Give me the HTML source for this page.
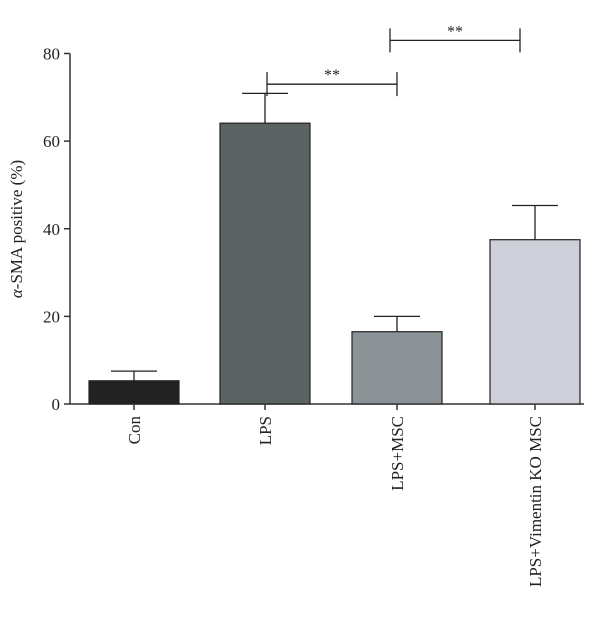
<!DOCTYPE html>
<html><head><meta charset="utf-8"><style>
body{margin:0;background:#fff}
svg text{font-family:"Liberation Serif",serif;fill:#222}
</style></head><body>
<svg width="600" height="636" viewBox="0 0 600 636">
<g id="plot"></g>
</svg>
<script>
const categories=["Con","LPS","LPS+MSC","LPS+Vimentin KO MSC"];
const values=[5.3,64.1,16.5,37.5];
const errors=[2.2,6.8,3.5,7.8];
const colors=["#222222","#5c6363","#8b9397","#cdd0d8"];
const yTicks=[0,20,40,60,80];
const sigPairs=[[1,2,73],[2,3,83]];
const sigLabels=["**","**"];
const NS="http://www.w3.org/2000/svg";
const g=document.getElementById('plot');
const x0=70,yBase=404,yTop=53.5,yMax=80;
const y=v=>yBase-(v/yMax)*(yBase-yTop);
const centers=[134,265,397,535];
const barW=90;
const xc=i=>centers[i];
function el(t,a,p){const e=document.createElementNS(NS,t);for(const k in a)e.setAttribute(k,a[k]);(p||g).appendChild(e);return e;}
// axes
let ax=el('line',{x1:x0,y1:yTop,x2:x0,y2:yBase,stroke:'#333','stroke-width':1.5});


let bx=el('line',{x1:x0,y1:yBase,x2:584,y2:yBase,stroke:'#333','stroke-width':1.5});


yTicks.forEach(t=>{
 const tk=el('line',{x1:x0-6,y1:y(t),x2:x0,y2:y(t),stroke:'#333','stroke-width':1.5});
 
 
 const tx=el('text',{x:x0-10,y:y(t)+6,'text-anchor':'end','font-size':17});
 tx.textContent=t;
 
 
});
const yt=el('text',{transform:'translate(22,229) rotate(-90)','text-anchor':'middle','font-size':17});
yt.innerHTML='<tspan font-style="italic">α</tspan>-SMA positive (%)';


categories.forEach((c,i)=>{
 const cx=xc(i);
 const r=el('rect',{x:cx-barW/2,y:y(values[i]),width:barW,height:yBase-y(values[i]),fill:colors[i],stroke:'#222','stroke-width':1.2});
 
 
 const e=el('path',{d:`M${cx},${y(values[i])}V${y(values[i]+errors[i])}M${cx-23},${y(values[i]+errors[i])}H${cx+23}`,stroke:'#222','stroke-width':1.3,fill:'none'});
 
 
 const tk=el('line',{x1:cx,y1:yBase,x2:cx,y2:yBase+6,stroke:'#333','stroke-width':1.5});
 
 
 const t=el('text',{transform:`translate(${cx+6},${yBase+12}) rotate(-90)`,'text-anchor':'end','font-size':17});
 t.textContent=c;
 
 
});
sigPairs.forEach((p,k)=>{
 const xa=xc(p[0])+2,xb=xc(p[1]-0)-(k==0?0:15)+(k==0?0:0);
 const x1=k==0?267:390,x2=k==0?397:520;
 const yy=y(p[2]);
 const b=el('path',{d:`M${x1},${yy-12}V${yy+12}M${x1},${yy}H${x2}M${x2},${yy-12}V${yy+12}`,stroke:'#222','stroke-width':1.3,fill:'none'});
 
 
 const t=el('text',{x:(x1+x2)/2,y:yy-4,'text-anchor':'middle','font-size':16});
 t.textContent=sigLabels[k];
 
 
});
</script>
</body></html>
